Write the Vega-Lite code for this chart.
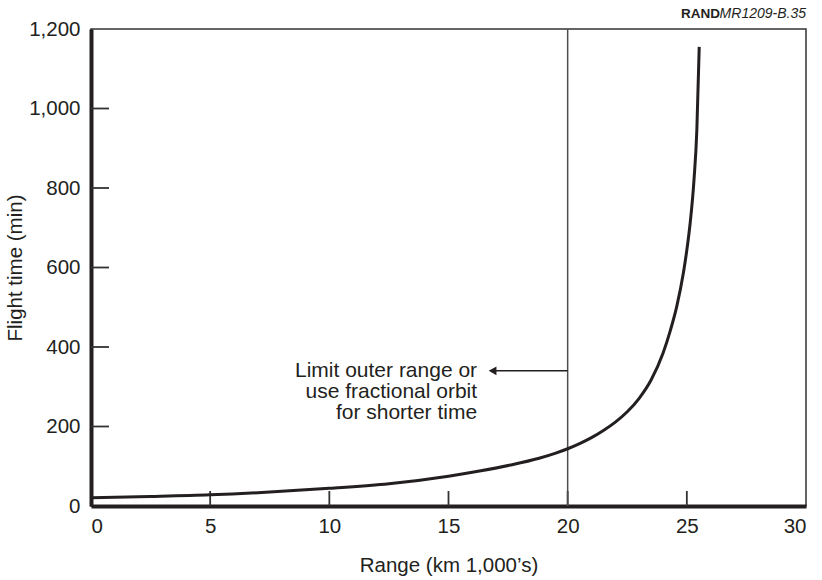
{
  "$schema": "https://vega.github.io/schema/vega-lite/v6.json",
  "width": 715,
  "height": 477,
  "autosize": {"type": "none"},
  "padding": {"left": 91, "top": 29, "right": 16, "bottom": 74},
  "background": "white",
  "config": {
    "font": "Liberation Sans",
    "view": {"stroke": "#333333", "strokeWidth": 1.5},
    "axis": {
      "grid": false,
      "domainColor": "#231f20",
      "domainWidth": 4,
      "ticks": false,
      "labelFont": "Liberation Sans",
      "labelFontSize": 20.5,
      "labelColor": "#231f20",
      "titleFont": "Liberation Sans",
      "titleFontSize": 20.5,
      "titleFontWeight": "normal",
      "titleColor": "#231f20"
    }
  },
  "datasets": {
    "curve": [
      {"range": 0, "time": 21},
      {"range": 2.5, "time": 24},
      {"range": 5, "time": 28},
      {"range": 7.5, "time": 35},
      {"range": 10, "time": 44.5},
      {"range": 12.5, "time": 56},
      {"range": 15, "time": 75},
      {"range": 16.3, "time": 88},
      {"range": 17.6, "time": 103},
      {"range": 18.8, "time": 120},
      {"range": 19.5, "time": 133},
      {"range": 20, "time": 144},
      {"range": 20.5, "time": 157},
      {"range": 21, "time": 172},
      {"range": 21.5, "time": 190},
      {"range": 22, "time": 211},
      {"range": 22.5, "time": 237},
      {"range": 23, "time": 271},
      {"range": 23.5, "time": 317},
      {"range": 24, "time": 384},
      {"range": 24.3, "time": 440},
      {"range": 24.58, "time": 503},
      {"range": 24.86, "time": 588},
      {"range": 25.0, "time": 644},
      {"range": 25.14, "time": 712},
      {"range": 25.3, "time": 820},
      {"range": 25.42, "time": 946},
      {"range": 25.52, "time": 1155}
    ]
  },
  "layer": [
    {
      "data": {"values": [{"x": 5}, {"x": 10}, {"x": 15}, {"x": 20}, {"x": 25}]},
      "mark": {"type": "tick", "orient": "vertical", "size": 15, "thickness": 1.8, "yOffset": -7.5, "color": "#333333", "opacity": 1},
      "encoding": {
        "x": {"field": "x", "type": "quantitative"},
        "y": {"datum": 0}
      }
    },
    {
      "data": {"values": [{"y": 200}, {"y": 400}, {"y": 600}, {"y": 800}, {"y": 1000}]},
      "mark": {"type": "tick", "orient": "horizontal", "size": 18, "thickness": 1.8, "xOffset": 9, "color": "#333333", "opacity": 1},
      "encoding": {
        "y": {"field": "y", "type": "quantitative"},
        "x": {"datum": 0}
      }
    },
    {
      "data": {"values": [{"x": 20}]},
      "mark": {"type": "rule", "color": "#4d4d4d", "strokeWidth": 1.5},
      "encoding": {"x": {"field": "x", "type": "quantitative"}}
    },
    {
      "data": {"values": [{"x1": 20, "x2": 16.95, "y": 340}]},
      "mark": {"type": "rule", "color": "#231f20", "strokeWidth": 1.5},
      "encoding": {
        "x": {"field": "x1", "type": "quantitative"},
        "x2": {"field": "x2"},
        "y": {"field": "y", "type": "quantitative"}
      }
    },
    {
      "data": {"values": [{"x": 16.85, "y": 340}]},
      "mark": {"type": "point", "shape": "triangle-left", "filled": true, "color": "#231f20", "size": 80, "opacity": 1},
      "encoding": {
        "x": {"field": "x", "type": "quantitative"},
        "y": {"field": "y", "type": "quantitative"}
      }
    },
    {
      "data": {"values": [{"x": 16.2, "y": 340, "label": "Limit outer range or\nuse fractional orbit\nfor shorter time"}]},
      "mark": {"type": "text", "align": "right", "baseline": "middle", "lineBreak": "\n", "fontSize": 21, "lineHeight": 21, "color": "#231f20", "font": "Liberation Sans"},
      "encoding": {
        "x": {"field": "x", "type": "quantitative"},
        "y": {"field": "y", "type": "quantitative"},
        "text": {"field": "label"}
      }
    },
    {
      "data": {"values": [{"x": 30, "y": 1200, "label": "MR1209-B.35"}]},
      "mark": {"type": "text", "align": "right", "baseline": "middle", "dy": -15, "fontSize": 14, "fontStyle": "italic", "color": "#231f20", "font": "Liberation Sans"},
      "encoding": {
        "x": {"field": "x", "type": "quantitative"},
        "y": {"field": "y", "type": "quantitative"},
        "text": {"field": "label"}
      }
    },
    {
      "data": {"values": [{"x": 30, "y": 1200, "label": "RAND"}]},
      "mark": {"type": "text", "align": "right", "baseline": "middle", "dy": -15, "dx": -86, "fontSize": 13.5, "fontWeight": "bold", "color": "#231f20", "font": "Liberation Sans"},
      "encoding": {
        "x": {"field": "x", "type": "quantitative"},
        "y": {"field": "y", "type": "quantitative"},
        "text": {"field": "label"}
      }
    },
    {
      "data": {"name": "curve"},
      "mark": {"type": "line", "color": "#231f20", "strokeWidth": 3, "interpolate": "monotone"},
      "encoding": {
        "x": {
          "field": "range", "type": "quantitative",
          "scale": {"domain": [0, 30], "nice": false, "zero": true},
          "axis": {"values": [0, 5, 10, 15, 20, 25, 30], "labelPadding": 10, "title": "Range (km 1,000\u2019s)", "titlePadding": 19}
        },
        "y": {
          "field": "time", "type": "quantitative",
          "scale": {"domain": [0, 1200], "nice": false},
          "axis": {"values": [0, 200, 400, 600, 800, 1000, 1200], "labelPadding": 11, "format": ",d", "title": "Flight time (min)", "titlePadding": 3}
        }
      }
    }
  ]
}
